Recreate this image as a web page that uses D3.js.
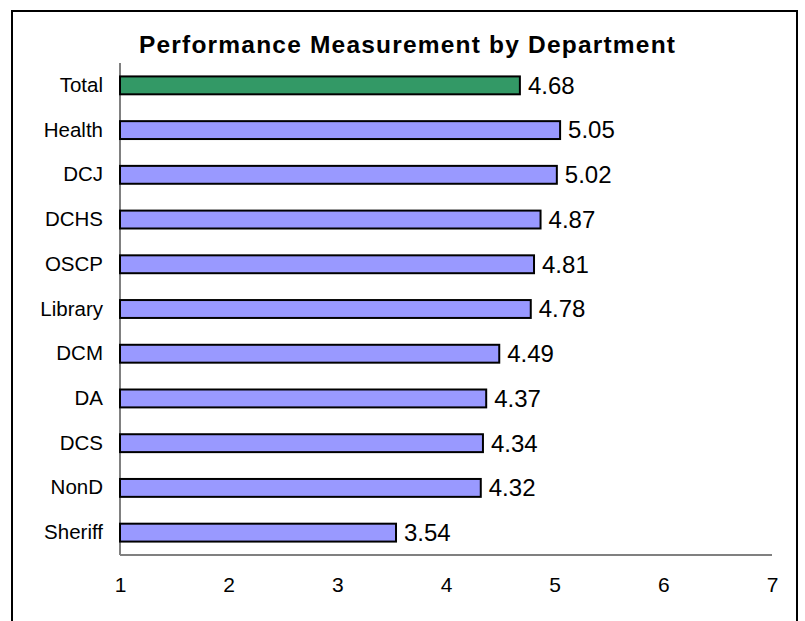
<!DOCTYPE html>
<html>
<head>
<meta charset="utf-8">
<script src="https://cdn.jsdelivr.net/npm/d3@7"></script>
<style>
  body { margin: 0; background: #fff; }
  text { font-family: Arial, "Liberation Sans", sans-serif; }
</style>
</head>
<body>
<svg id="chart" width="805" height="621"></svg>
<script>
// data
let departments = ["Total", "Health", "DCJ", "DCHS", "OSCP", "Library", "DCM", "DA", "DCS", "NonD", "Sheriff"];
let scores = [4.68, 5.05, 5.02, 4.87, 4.81, 4.78, 4.49, 4.37, 4.34, 4.32, 3.54];
let xTicks = [1, 2, 3, 4, 5, 6, 7];
let chartTitle = "Performance Measurement by Department";

let svg = d3.select("#chart");

// outer frame (bottom edge runs off the picture)
svg.append("rect")
   .attr("x", 12).attr("y", 11)
   .attr("width", 785).attr("height", 640)
   .attr("fill", "none")
   .attr("stroke", "#000")
   .attr("stroke-width", 2);

svg.append("text")
   .attr("x", 407).attr("y", 53)
   .attr("text-anchor", "middle")
   .attr("font-size", 24.5)
   .attr("font-weight", "bold")
   .attr("textLength", 536)
   .attr("lengthAdjust", "spacing")
   .text(chartTitle);

let x = d3.scaleLinear()
          .domain([1, 7])
          .range([120, 772]);

let y = d3.scaleBand()
          .domain(departments)
          .range([63, 555])
          .paddingInner(0.6)
          .paddingOuter(0.3);

// axis lines
svg.append("line")
   .attr("x1", x(1)).attr("x2", x(1))
   .attr("y1", y.range()[0]).attr("y2", y.range()[1])
   .attr("stroke", "#808080").attr("stroke-width", 2);

svg.append("line")
   .attr("x1", x(1)).attr("x2", x(7))
   .attr("y1", y.range()[1]).attr("y2", y.range()[1])
   .attr("stroke", "#808080").attr("stroke-width", 2);

// bottom tick labels
let xAxis = svg.append("g")
   .attr("transform", "translate(0," + y.range()[1] + ")")
   .call(d3.axisBottom(x).tickValues(xTicks).tickFormat(d3.format("d")).tickSize(0).tickPadding(22));
xAxis.select(".domain").remove();
xAxis.selectAll("text")
     .attr("font-size", 21)
     .attr("font-family", "Arial, 'Liberation Sans', sans-serif")
     .attr("fill", "#000");

// category labels
let yAxis = svg.append("g")
   .attr("transform", "translate(" + x(1) + ",0)")
   .call(d3.axisLeft(y).tickSize(0).tickPadding(17));
yAxis.select(".domain").remove();
yAxis.selectAll("text")
     .attr("font-size", 20.5)
     .attr("font-family", "Arial, 'Liberation Sans', sans-serif")
     .attr("fill", "#000");

// bars
svg.selectAll(".bar")
   .data(departments)
   .enter().append("rect")
   .attr("class", "bar")
   .attr("x", x(1))
   .attr("y", function(d) { return y(d); })
   .attr("width", function(d, i) { return x(scores[i]) - x(1); })
   .attr("height", y.bandwidth())
   .attr("fill", function(d) { return d == "Total" ? "#339966" : "#9999ff"; })
   .attr("stroke", "#000")
   .attr("stroke-width", 2);

// value labels
svg.selectAll(".val")
   .data(departments)
   .enter().append("text")
   .attr("class", "val")
   .attr("x", function(d, i) { return x(scores[i]) + 8; })
   .attr("y", function(d) { return y(d) + y.bandwidth() / 2; })
   .attr("dy", "0.35em")
   .attr("font-size", 24)
   .text(function(d, i) { return scores[i].toFixed(2); });
</script>
</body>
</html>
